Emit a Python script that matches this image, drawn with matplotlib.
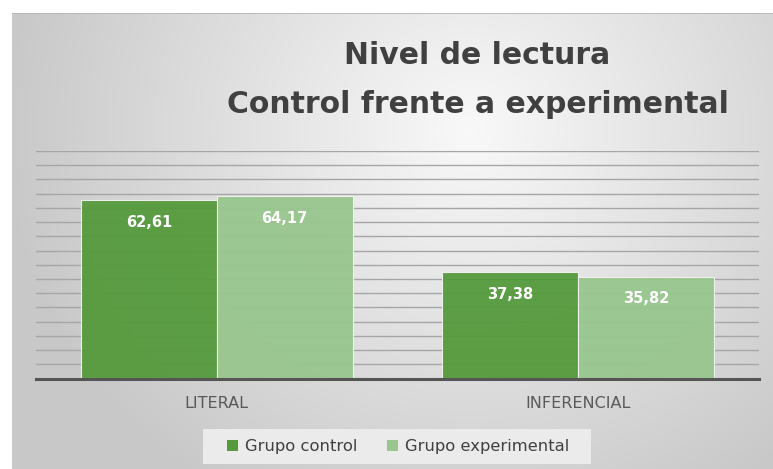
import numpy as np
import matplotlib
matplotlib.use("Agg")
import matplotlib.pyplot as plt
from matplotlib.patches import Patch, Rectangle

categories = ["LITERAL", "INFERENCIAL"]
series_names = ["Grupo control", "Grupo experimental"]
control = [62.61, 37.38]
experimental = [64.17, 35.82]
value_labels_control = ["62,61", "37,38"]
value_labels_experimental = ["64,17", "35,82"]
title_lines = ["Nivel de lectura", "Control frente a experimental"]

W, H = 773, 469
fig = plt.figure(figsize=(W / 100, H / 100), dpi=100)
fig.patch.set_facecolor("white")

# background panel with radial gradient
px0, py0 = 12, 13
bg = fig.add_axes([px0 / W, 0, 1 - px0 / W, 1 - py0 / H])
bg.set_axis_off()
nx, ny = W - px0, H - py0
xx, yy = np.meshgrid(np.arange(nx) + px0, np.arange(ny) + py0)
cx, cy = 470, 130
d = np.sqrt(((xx - cx) / 470.0) ** 2 + ((yy - cy) / 430.0) ** 2)
d = np.clip(d, 0, 1)
v = 0.975 - 0.19 * d ** 1.0
img = np.dstack([v, v, v])
bg.imshow(img, extent=[0, 1, 0, 1], aspect="auto", origin="upper", interpolation="bilinear")
bg.set_xlim(0, 1)
bg.set_ylim(0, 1)
bg.plot([0, 1], [1 - 0.5 / ny, 1 - 0.5 / ny], color="#b5b5b5", lw=1.2, transform=bg.transAxes)

# main axes
left, right = 36 / W, 759 / W
bottom, top = (H - 378.5) / H, (H - 151) / H
ax = fig.add_axes([left, bottom, right - left, top - bottom])
ax.patch.set_alpha(0)
x = np.arange(len(categories))
bw = 0.376
ax.set_xlim(-0.5, len(categories) - 0.5)
ax.set_ylim(0, 80)
ax.set_yticks(np.arange(5, 81, 5))
ax.yaxis.grid(True, color="#a6a6a6", lw=1.0)
ax.set_axisbelow(True)
ax.tick_params(axis="y", left=False, labelleft=False)
ax.tick_params(axis="x", bottom=False, pad=9, labelsize=11.5, labelcolor="#595959")
ax.set_xticks(x)
ax.set_xticklabels(categories)
for s in ["left", "right", "top"]:
    ax.spines[s].set_visible(False)
ax.spines["bottom"].set_color("#555555")
ax.spines["bottom"].set_linewidth(2.2)
ax.spines["bottom"].set_zorder(5)

c_dark = "#559a3c"
c_light = "#98c68e"
b1 = ax.bar(x - bw / 2, control, bw, color=c_dark, alpha=0.95, edgecolor="#f2f2f2", linewidth=0.8, zorder=3)
b2 = ax.bar(x + bw / 2, experimental, bw, color=c_light, alpha=0.95, edgecolor="#f2f2f2", linewidth=0.8, zorder=3)
for bars, labs in ((b1, value_labels_control), (b2, value_labels_experimental)):
    for rect, lab in zip(bars, labs):
        ax.annotate(lab, (rect.get_x() + rect.get_width() / 2, rect.get_height()),
                    xytext=(0, -16), textcoords="offset points", ha="center", va="center",
                    color="white", fontsize=10.5, fontweight="bold", zorder=6)

# title
fig.text(477 / W, 1 - 56 / H, title_lines[0], ha="center", va="center",
         fontsize=21.5, fontweight="bold", color="#404040", family="DejaVu Sans")
fig.text(478 / W, 1 - 104 / H, title_lines[1], ha="center", va="center",
         fontsize=21.5, fontweight="bold", color="#404040", family="DejaVu Sans")

# legend box
lb = Rectangle((203 / W, 1 - 464 / H), (591 - 203) / W, 35 / H, transform=fig.transFigure,
               facecolor="#ebebeb", edgecolor="none", zorder=1)
fig.patches.append(lb)
handles = [Patch(facecolor=c_dark, edgecolor="none"), Patch(facecolor=c_light, edgecolor="none")]
fig.legend(handles, series_names, loc="center", bbox_to_anchor=(398 / W, 1 - 446.5 / H),
           ncol=2, frameon=False, fontsize=11.8, handlelength=0.7, handleheight=0.7,
           handletextpad=0.4, columnspacing=1.8, labelcolor="#404040")

fig.savefig("out.png", dpi=100, facecolor="white")
